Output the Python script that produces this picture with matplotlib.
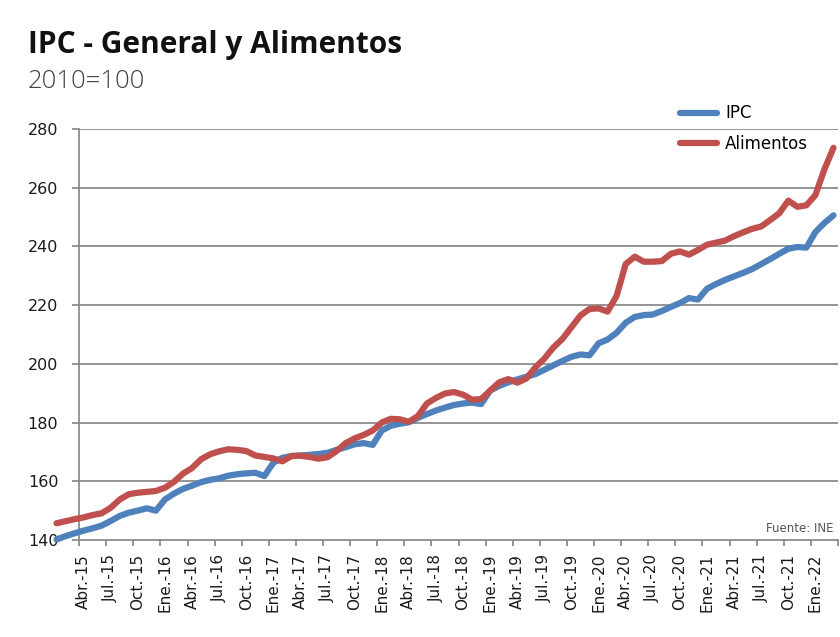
import numpy as np
import matplotlib
matplotlib.use("Agg")
import matplotlib.pyplot as plt
from matplotlib.lines import Line2D

# Monthly series, Ene.-15 ... Mar.-22 (2010=100)
ipc = [140.2, 141.3, 142.3, 143.2, 144.0, 144.9, 146.5, 148.2, 149.3, 150.0, 150.8, 150.0,
       153.8, 155.8, 157.4, 158.5, 159.7, 160.5, 161.0, 161.9, 162.4, 162.7, 162.9, 161.8,
       166.3, 168.0, 168.6, 168.8, 169.0, 169.3, 169.7, 170.7, 171.6, 172.6, 173.0, 172.4,
       177.3, 178.9, 179.6, 180.1, 181.6, 182.9, 184.1, 185.1, 186.0, 186.5, 186.8, 186.3,
       190.9, 192.5, 193.7, 194.7, 195.6, 196.5, 198.0, 199.5, 201.0, 202.4, 203.2, 202.9,
       207.0, 208.3, 210.6, 214.0, 216.0, 216.6, 216.8, 218.0, 219.4, 220.7, 222.4, 221.9,
       225.6, 227.2, 228.6, 229.8, 231.0, 232.3, 234.0, 235.7, 237.5, 239.2, 239.8, 239.6,
       244.9, 248.0, 250.6]
alimentos = [145.7, 146.4, 147.1, 147.7, 148.5, 149.1, 151.0, 153.8, 155.6, 156.1, 156.4, 156.7,
             157.8, 159.8, 162.6, 164.5, 167.5, 169.2, 170.2, 170.9, 170.7, 170.3, 168.8, 168.3,
             167.8, 166.8, 168.6, 168.7, 168.3, 167.7, 168.2, 170.3, 173.0, 174.6, 175.8, 177.3,
             180.0, 181.3, 181.1, 180.3, 182.2, 186.5, 188.4, 189.9, 190.4, 189.5, 187.8, 188.0,
             190.9, 193.7, 194.8, 193.6, 195.0, 198.8, 201.8, 205.6, 208.5, 212.5, 216.5, 218.7,
             218.9, 217.8, 223.2, 234.0, 236.5, 234.8, 234.8, 235.0, 237.5, 238.3, 237.2, 238.8,
             240.6, 241.3, 242.0, 243.5, 244.8, 246.0, 246.8, 249.0, 251.3, 255.6, 253.5, 254.0,
             257.5, 266.3, 273.6]

meses = ["Ene.", "Feb.", "Mar.", "Abr.", "May.", "Jun.",
         "Jul.", "Ago.", "Sep.", "Oct.", "Nov.", "Dic."]
first_year = 15
labels = [f"{meses[i % 12]}-{first_year + i // 12}" for i in range(len(ipc))]
yticks = [140, 160, 180, 200, 220, 240, 260, 280]

c_ipc = "#4F81BD"
c_ali = "#C0504D"
c_grid = "#8c8c8c"

fig = plt.figure(figsize=(8.4, 6.37), dpi=100)
ax = fig.add_axes([52/840, 1-540/637, (838-52)/840, (540-129)/637])

x = np.arange(len(ipc))
n = len(ipc)
x0 = 2.5  # axis crosses between Mar.-15 and Abr.-15

# grid lines
for y in yticks[1:]:
    ax.hlines(y, x0, n - 0.5, color=c_grid, lw=1.3, zorder=0)

ax.plot(x, ipc, color=c_ipc, lw=4.5, solid_capstyle="round",
        solid_joinstyle="round", clip_on=False, zorder=3)
ax.plot(x, alimentos, color=c_ali, lw=4.5, solid_capstyle="round",
        solid_joinstyle="round", clip_on=False, zorder=4)

ax.set_xlim(-0.5, n - 0.5)
ax.set_ylim(140, 280)

for s in ["top", "right"]:
    ax.spines[s].set_visible(False)
ax.spines["left"].set_position(("data", x0))
ax.spines["left"].set_bounds(140, 280)
ax.spines["bottom"].set_bounds(x0, n - 0.5)
for s in ["left", "bottom"]:
    ax.spines[s].set_color(c_grid)
    ax.spines[s].set_linewidth(1.3)

ax.set_yticks(yticks)
ax.set_yticklabels([str(v) for v in yticks], fontsize=11.5, color="#1a1a1a")
ax.tick_params(axis="y", direction="out", length=5, width=1.3, color=c_grid, pad=10)

ax.set_xticks(np.arange(x0, n, 3))
ax.set_xticklabels([])
ax.tick_params(axis="x", which="major", direction="out", length=4, width=1.3, color=c_grid)
lab_idx = list(range(3, n, 3))
ax.set_xticks(lab_idx, minor=True)
ax.set_xticklabels([labels[i] for i in lab_idx], minor=True, rotation=90,
                   fontsize=11, color="#1a1a1a")
ax.tick_params(axis="x", which="minor", length=0, pad=10)

handles = [Line2D([], [], color=c_ipc, lw=4.5, solid_capstyle="round"),
           Line2D([], [], color=c_ali, lw=4.5, solid_capstyle="round")]
fig.legend(handles, ["IPC", "Alimentos"], loc="upper left",
           bbox_to_anchor=(672/840, 1-96/637), frameon=False, fontsize=12,
           handlelength=2.2, handletextpad=0.5, labelspacing=0.75, borderpad=0)

fig.text(28/840, 1-53/637, "IPC - General y Alimentos", fontsize=21.5,
         fontweight="bold", family="Open Sans", va="baseline", color="#111111")
fig.text(28/840, 1-88/637, "2010=100", fontsize=18.5, family="Open Sans",
         fontweight="light", va="baseline", color="#444444")
fig.text(833/840, 1-532/637, "Fuente: INE", fontsize=8.5, ha="right",
         va="baseline", color="#555555")

fig.savefig("out.png", dpi=100)
